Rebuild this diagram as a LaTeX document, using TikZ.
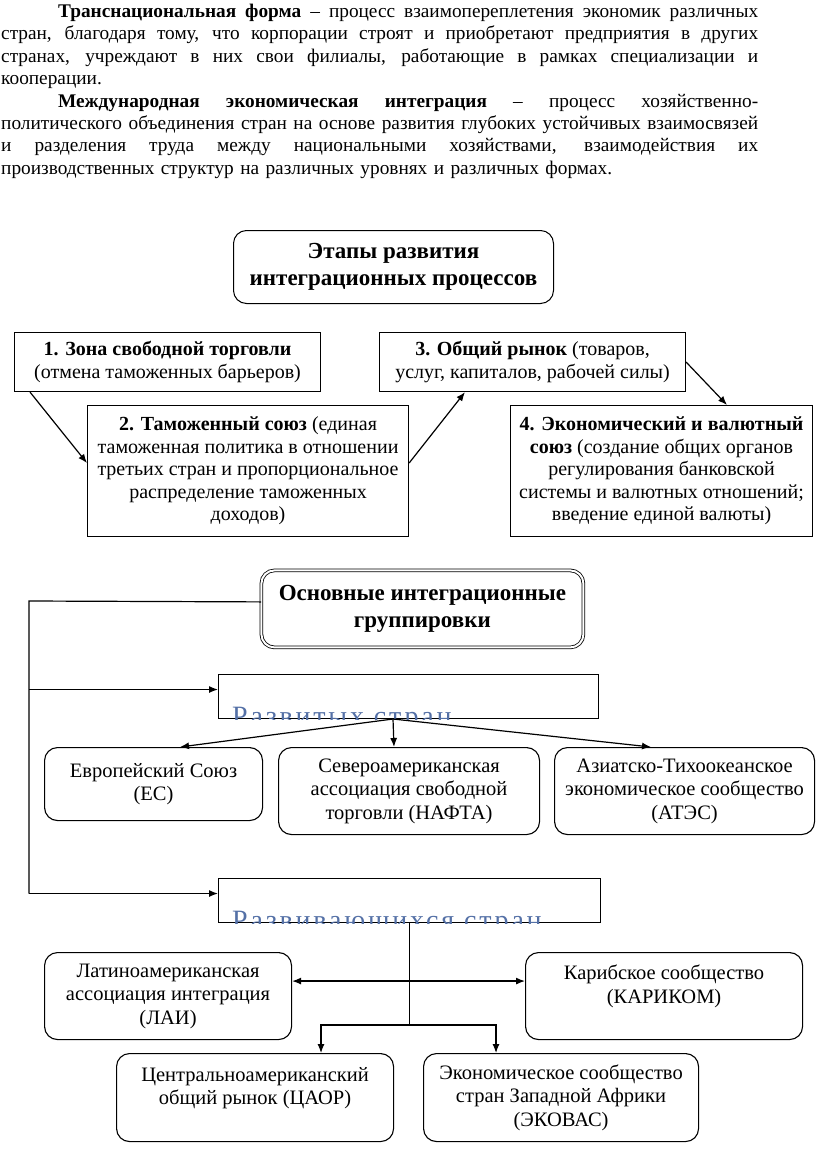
\documentclass[tikz,border=0pt]{standalone}
\usepackage{fontspec}
\setmainfont{Liberation Serif}
\newfontfamily\spacedfont[LetterSpace=10]{Liberation Serif}
\usetikzlibrary{arrows.meta}
\definecolor{groupblue}{RGB}{84,112,166}

% one justified line of the text block
\newcommand{\jline}[1]{\makebox[757pt][s]{\spaceskip=0.25em plus 2em minus 0.05em\relax #1}\\}

\tikzset{
  box/.style={draw, line width=1.1pt, inner sep=0pt, anchor=north west, align=center,
    font=\fontsize{20}{22.5}\selectfont},
  rbox/.style={box, rounded corners=13pt, font=\fontsize{20.5}{23.5}\selectfont},
  headbox/.style={rbox, font=\fontsize{23}{27}\selectfont\bfseries},
  groupbox/.style={box, line width=1pt},
  grouptext/.style={anchor=base west, inner sep=0pt, text=groupblue,
    font=\spacedfont\fontsize{28}{30}\selectfont},
  arr/.style={line width=1.2pt, -{Latex[length=9pt,width=7pt]}},
  link/.style={line width=1.2pt},
}

\begin{document}
\begin{tikzpicture}[x=1pt, y=-1pt]
  \useasboundingbox (0,0) rectangle (816,1164);

  %%%%% TEXT %%%%%
  \node[anchor=north west, inner sep=0pt, text width=757pt, align=left,
    font=\fontsize{19.3}{22.4}\selectfont] (intro) at (1,4) {%
    \jline{\hspace*{57pt}\textbf{Транснациональная форма} – процесс взаимопереплетения экономик различных}
    \jline{стран, благодаря тому, что корпорации строят и приобретают предприятия в других}
    \jline{странах, учреждают в них свои филиалы, работающие в рамках специализации и}
    кооперации.\\
    \jline{\hspace*{57pt}\textbf{Международная экономическая интеграция} – процесс хозяйственно-}
    \jline{политического объединения стран на основе развития глубоких устойчивых взаимосвязей}
    \jline{и разделения труда между национальными хозяйствами, взаимодействия их}
    производственных структур на различных уровнях и различных формах.};

  %%%%% STAGES %%%%%
  \node[headbox, minimum width=320pt, minimum height=73pt, line width=1pt] (stages) at (233,230)
    {Этапы развития\\интеграционных процессов};

  \node[box, minimum width=306pt, minimum height=59pt] (free) at (14,332)
    {\textbf{1. Зона свободной торговли}\\(отмена таможенных барьеров)};
  \node[box, minimum width=321pt, minimum height=131pt] (customs) at (87,405)
    {\textbf{2. Таможенный союз} (единая\\таможенная политика в отношении\\третьих стран и пропорциональное\\распределение таможенных\\доходов)};
  \node[box, minimum width=306pt, minimum height=59pt] (market) at (379,332)
    {\textbf{3. Общий рынок} (товаров,\\услуг, капиталов, рабочей силы)};
  \node[box, minimum width=302pt, minimum height=131pt] (union) at (510,405)
    {\textbf{4. Экономический и валютный}\\\textbf{союз} (создание общих органов\\регулирования банковской\\системы и валютных отношений;\\введение единой валюты)};

  \draw[arr] ([xshift=16]free.south west) -- ([yshift=8]customs.west);
  \draw[arr] ([yshift=8]customs.east) -- ([xshift=86]market.south west);
  \draw[arr] (market.east) -- ([xshift=217]union.north west);

  %%%%% GROUPS %%%%%
  \node[headbox, minimum width=322pt, minimum height=77pt, double, double distance=2pt,
    line width=0.8pt] (groups) at (261,570) {Основные интеграционные\\группировки};

  \node[groupbox, minimum width=380pt, minimum height=44pt] (dev) at (218,674) {};
  \begin{scope}
    \clip (dev.south west) rectangle (dev.north east);
    \node[grouptext] (devlabel) at (232,725) {Развитых стран};
  \end{scope}

  \node[rbox, minimum width=218pt, minimum height=73pt] (eu) at (44,747)
    {Европейский Союз\\(ЕС)};
  \node[rbox, minimum width=261pt, minimum height=87pt] (nafta) at (278,747)
    {Североамериканская\\ассоциация свободной\\торговли (НАФТА)};
  \node[rbox, minimum width=260pt, minimum height=87pt] (apec) at (554,747)
    {Азиатско-Тихоокеанское\\экономическое сообщество\\(АТЭС)};

  \node[groupbox, minimum width=382pt, minimum height=44pt] (devg) at (218,878) {};
  \begin{scope}
    \clip (devg.south west) rectangle (devg.north east);
    \node[grouptext] (devglabel) at (232,929) {Развивающихся стран};
  \end{scope}

  \node[rbox, minimum width=247pt, minimum height=87pt] (lai) at (44,952)
    {Латиноамериканская\\ассоциация интеграция\\(ЛАИ)};
  \node[rbox, minimum width=277pt, minimum height=87pt] (caricom) at (525,952)
    {Карибское сообщество\\(КАРИКОМ)\\\mbox{}};
  \node[rbox, minimum width=277pt, minimum height=88pt] (caor) at (116,1053)
    {Центральноамериканский\\общий рынок (ЦАОР)\\\mbox{}};
  \node[rbox, minimum width=275pt, minimum height=88pt] (ecowas) at (423,1053)
    {Экономическое сообщество\\стран Западной Африки\\(ЭКОВАС)};

  % trunk on the left
  \coordinate (trunktop) at (29,601);
  \coordinate (devin) at ([yshift=7]dev.west);
  \coordinate (devgin) at ([yshift=7]devg.west);
  \draw[link] ([yshift=7]groups.west) -- (trunktop) -- (devgin -| trunktop);
  \draw[arr] (devin -| trunktop) -- (devin);
  \draw[arr] (devgin -| trunktop) -- (devgin);

  % developed countries
  \coordinate (devfork) at ([xshift=175]dev.south west);
  \draw[arr] (devfork) -- ([xshift=136]eu.north west);
  \draw[arr] (devfork) -- ([xshift=116]nafta.north west);
  \draw[arr] (devfork) -- ([xshift=97]apec.north west);

  % developing countries
  \coordinate (devgfork) at ([yshift=-102]devg.south);
  \draw[link] (devg.south) -- (devgfork);
  \draw[line width=1.2pt, {Latex[length=9pt,width=7pt]}-{Latex[length=9pt,width=7pt]}]
    ([yshift=15]lai.east) -- ([yshift=15]caricom.west);
  \draw[arr] (devgfork) -| ([xshift=205]caor.north west);
  \draw[arr] (devgfork) -| ([xshift=73]ecowas.north west);
\end{tikzpicture}
\end{document}
